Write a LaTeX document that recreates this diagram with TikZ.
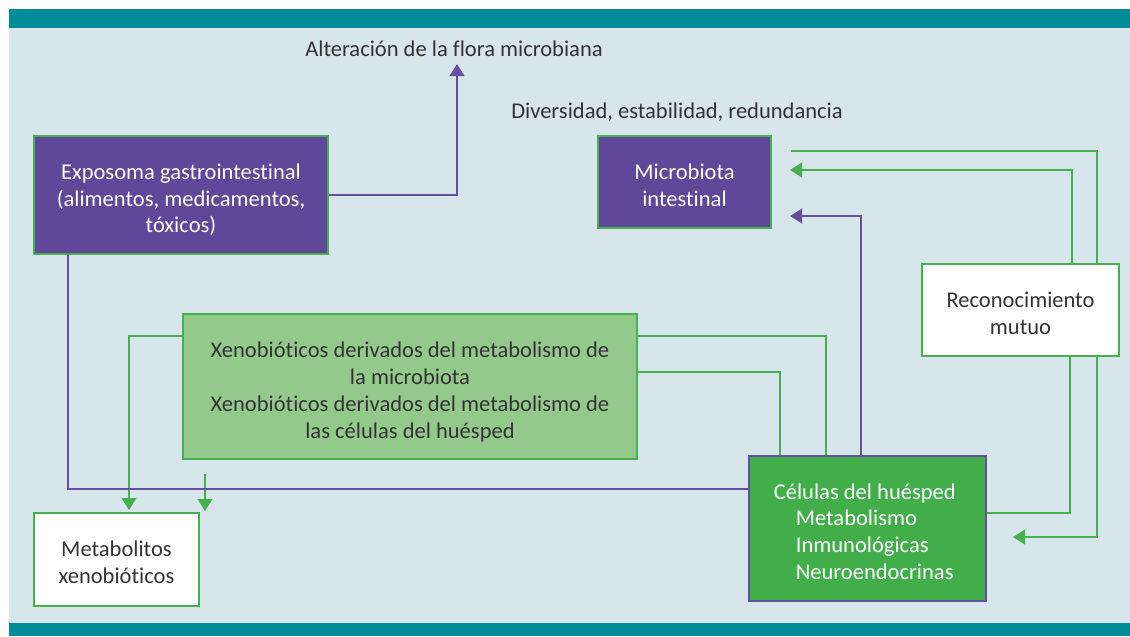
\documentclass[tikz,border=0pt]{standalone}
\usepackage{fontspec}
\setmainfont{Carlito}[Ligatures={NoCommon,NoRequired,NoContextual}]
\usetikzlibrary{arrows.meta}
\definecolor{teal}{HTML}{008C99}
\definecolor{bgc}{HTML}{D7E6EA}
\definecolor{purfill}{HTML}{60479A}
\definecolor{purline}{HTML}{6450A0}
\definecolor{gline}{HTML}{47B04E}
\definecolor{gfill}{HTML}{42AE4A}
\definecolor{lgfill}{HTML}{93C98B}
\definecolor{txt}{HTML}{333333}
\tikzset{
  every node/.style={font=\fontsize{16.9}{20.1}\selectfont, text=txt, inner sep=0pt, align=center},
  box/.style={draw, line width=1.5pt, rectangle},
  purbox/.style={box, fill=purfill, draw=gline},
  wtext/.style={text=white},
  greenline/.style={draw=gline, line width=1.5pt},
  purpline/.style={draw=purline, line width=1.5pt},
  tip/.style={-{Triangle[length=9pt,width=11pt]}}
}
\begin{document}
\begin{tikzpicture}[x=0.75pt,y=-0.75pt]
\useasboundingbox (0,0) rectangle (1130,636);
\fill[white] (0,0) rectangle (1130,636);
\fill[bgc] (9,9) rectangle (1130,636);
\fill[teal] (9,9) rectangle (1130,28);
\fill[teal] (9,623) rectangle (1130,636);

% nodes
\node (alt) at (454,49) {Alteración de la flora microbiana};
\node (div) at (677,112) {Diversidad, estabilidad, redundancia};
\node[purbox, minimum width=294*0.75pt, minimum height=118*0.75pt,
  label={[wtext, yshift=-3.6pt]center:{Exposoma gastrointestinal\\(alimentos, medicamentos,\\tóxicos)}}] (expo) at (181,195) {};
\node[purbox, minimum width=173*0.75pt, minimum height=92*0.75pt,
  label={[wtext, yshift=-2.3pt]center:{Microbiota\\intestinal}}] (micro) at (684.5,182) {};
\node[box, draw=gline, fill=white, minimum width=197*0.75pt, minimum height=92*0.75pt,
  label={[yshift=-2.6pt]center:{Reconocimiento\\mutuo}}] (recon) at (1020.5,310) {};
\node[box, draw=gline, fill=lgfill, minimum width=454*0.75pt, minimum height=145*0.75pt,
  label={[yshift=-4pt]center:{Xenobióticos derivados del metabolismo de\\la microbiota\\Xenobióticos derivados del metabolismo de\\las células del huésped}}] (xeno) at (410,386.5) {};
\node[box, draw=purline, fill=gfill, minimum width=237*0.75pt, minimum height=145*0.75pt,
  label={[wtext, align=left, yshift=-2.3pt, xshift=-2pt]center:{Células del huésped\\\hspace*{16.5pt}Metabolismo\\\hspace*{16.5pt}Inmunológicas\\\hspace*{16.5pt}Neuroendocrinas}}] (cel) at (867.5,528.5) {};
\node[box, draw=gline, fill=white, minimum width=165*0.75pt, minimum height=93*0.75pt,
  label={[yshift=-2.3pt]center:{Metabolitos\\xenobióticos}}] (metab) at (116.5,559.5) {};

% coordinates
\coordinate (altTip) at (457,64);
\coordinate (gA) at (1097,151);
\coordinate (gAend) at (791,151);
\coordinate (gB) at (1072,170);
\coordinate (gBend) at (790,170);
\coordinate (pA) at (861,216);
\coordinate (pAend) at (790,216);
\coordinate (gC) at (826,336);
\coordinate (gD) at (780,372);
\coordinate (gE) at (1070,513);
\coordinate (gF) at (1097,537);
\coordinate (gFend) at (1013,537);
\coordinate (gG) at (129,336);
\coordinate (gH) at (205,474);
\coordinate (gHend) at (205,511);
\coordinate (pB) at (68,489);

% connectors
\draw[purpline, tip] (expo.east) -| (altTip);
\draw[greenline] (recon.north -| gA) -- (gA) -- (gAend);
\draw[greenline, tip] (recon.north -| gB) -- (gB) -- (gBend);
\draw[purpline, tip] (cel.north -| pA) -- (pA) -- (pAend);
\draw[greenline] (xeno.east |- gC) -- (gC) -- (cel.north -| gC);
\draw[greenline] (xeno.east |- gD) -- (gD) -- (cel.north -| gD);
\draw[greenline] (recon.south -| gE) -- (gE) -- (cel.east |- gE);
\draw[greenline, tip] (recon.south -| gF) -- (gF) -- (gFend);
\draw[greenline, tip] (xeno.west |- gG) -- (gG) -- ([yshift=1.5pt]metab.north -| gG);
\draw[greenline, tip] (gH) -- (gHend);
\draw[purpline] (expo.south -| pB) -- (pB) -- (cel.west |- pB);
\end{tikzpicture}
\end{document}
